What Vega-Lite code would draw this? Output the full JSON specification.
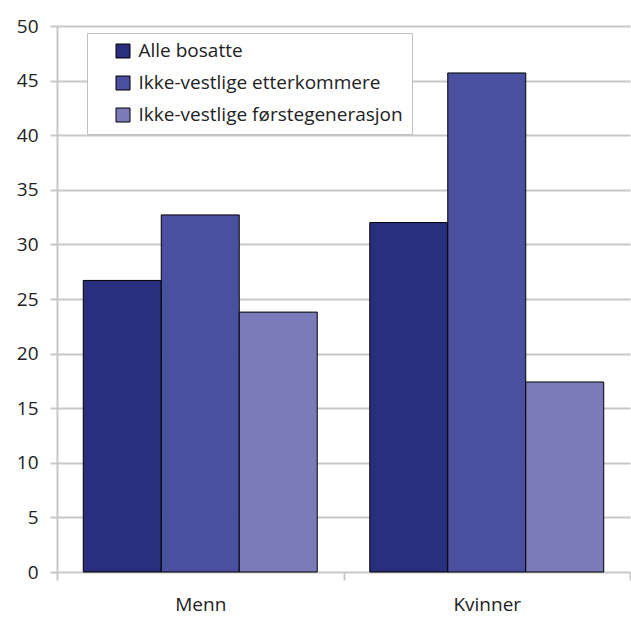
{
  "$schema": "https://vega.github.io/schema/vega-lite/v6.json",
  "autosize": {"type": "none"},
  "padding": {"left": 57, "top": 26, "right": 1, "bottom": 58},
  "width": 573,
  "height": 546,
  "background": "white",
  "data": {"values": [
    {"kjonn": "Menn", "gruppe": "Alle bosatte", "verdi": 26.7},
    {"kjonn": "Menn", "gruppe": "Ikke-vestlige etterkommere", "verdi": 32.7},
    {"kjonn": "Menn", "gruppe": "Ikke-vestlige førstegenerasjon", "verdi": 23.8},
    {"kjonn": "Kvinner", "gruppe": "Alle bosatte", "verdi": 32.0},
    {"kjonn": "Kvinner", "gruppe": "Ikke-vestlige etterkommere", "verdi": 45.7},
    {"kjonn": "Kvinner", "gruppe": "Ikke-vestlige førstegenerasjon", "verdi": 17.4}
  ]},
  "mark": {"type": "bar", "stroke": "#000000", "strokeWidth": 1},
  "encoding": {
    "x": {
      "field": "kjonn", "type": "nominal", "sort": ["Menn", "Kvinner"],
      "scale": {"paddingInner": 0, "paddingOuter": 0},
      "axis": {"title": null, "labelAngle": 0, "tickBand": "extent", "labelFont": "Open Sans", "labelFontSize": 19, "labelColor": "#222222", "labelPadding": 15, "tickSize": 8, "tickColor": "#c8c8c8", "tickWidth": 2, "domain": false, "grid": false}
    },
    "xOffset": {
      "field": "gruppe", "type": "nominal",
      "sort": ["Alle bosatte", "Ikke-vestlige etterkommere", "Ikke-vestlige førstegenerasjon"],
      "scale": {"paddingInner": 0, "paddingOuter": 0.337}
    },
    "y": {
      "field": "verdi", "type": "quantitative",
      "scale": {"domain": [0, 50], "nice": false},
      "axis": {"title": null, "values": [0,5,10,15,20,25,30,35,40,45,50], "labelFont": "Open Sans", "labelFontSize": 19, "labelColor": "#222222", "labelPadding": 12, "tickSize": 7, "tickColor": "#c8c8c8", "tickWidth": 2, "domainColor": "#c8c8c8", "domainWidth": 2, "grid": true, "gridColor": "#c8c8c8", "gridWidth": 2}
    },
    "color": {
      "field": "gruppe", "type": "nominal",
      "sort": ["Alle bosatte", "Ikke-vestlige etterkommere", "Ikke-vestlige førstegenerasjon"],
      "scale": {"range": ["#2a2e7e", "#4b4fa0", "#7b7bba"]},
      "legend": {
        "title": null, "orient": "none", "legendX": 30, "legendY": 7,
        "fillColor": "white", "strokeColor": "#c0c0c0", "padding": 8.5,
        "symbolType": "square", "symbolSize": 196, "symbolStrokeColor": "#000000", "symbolStrokeWidth": 1,
        "symbolOffset": 18, "labelOffset": 6,
        "labelFont": "Open Sans", "labelFontSize": 19, "labelColor": "#222222",
        "rowPadding": 12, "labelLimit": 400
      }
    }
  },
  "config": {"view": {"stroke": null}}
}
